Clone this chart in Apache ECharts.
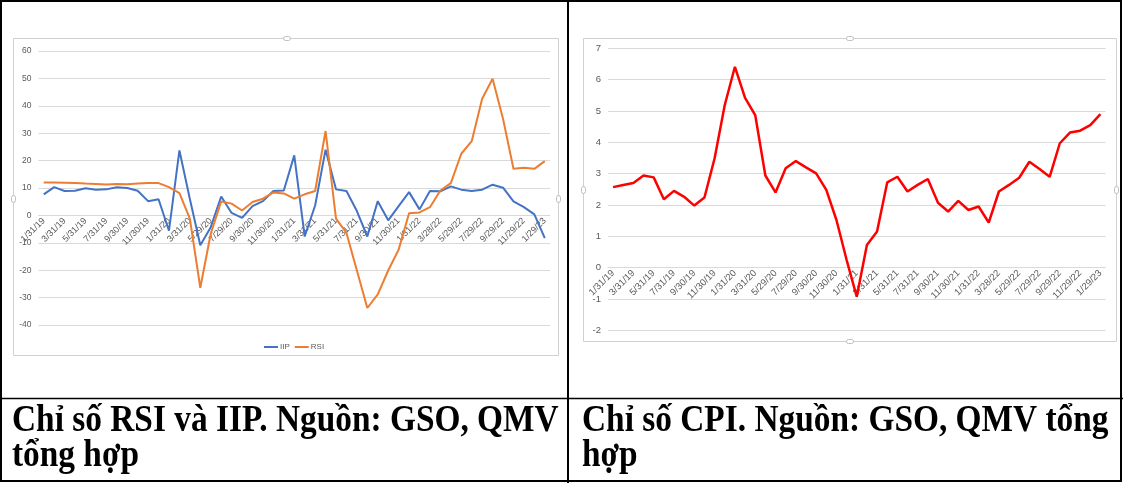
<!DOCTYPE html>
<html>
<head>
<meta charset="utf-8">
<script src="https://cdn.jsdelivr.net/npm/echarts@6/dist/echarts.min.js"></script>
<style>
  html, body { margin: 0; padding: 0; background: #ffffff; }
  #chart { width: 1123px; height: 483px; }
</style>
</head>
<body>
<div id="chart"></div>
<script>
// ---------- DATA ----------
const categories = [
  '1/31/19','2/28/19','3/31/19','4/30/19','5/31/19','6/30/19','7/31/19','8/31/19','9/30/19','10/31/19','11/30/19','12/31/19',
  '1/31/20','2/29/20','3/31/20','4/29/20','5/29/20','6/29/20','7/29/20','8/31/20','9/30/20','10/31/20','11/30/20','12/31/20',
  '1/31/21','2/28/21','3/31/21','4/30/21','5/31/21','6/30/21','7/31/21','8/31/21','9/30/21','10/31/21','11/30/21','12/31/21',
  '1/31/22','2/28/22','3/28/22','4/28/22','5/29/22','6/29/22','7/29/22','8/29/22','9/29/22','10/29/22','11/29/22','12/29/22',
  '1/29/23'
];
const iip = [
  7.7, 10.3, 8.9, 9.0, 9.9, 9.4, 9.5, 10.3, 10.0, 9.0, 5.2, 5.9,
  -5.6, 23.7, 6.0, -10.9, -4.3, 6.9, 0.9, -0.9, 3.4, 5.2, 8.9, 9.1,
  21.9, -7.7, 3.6, 24.0, 9.5, 8.9, 1.6, -7.7, 5.2, -1.8, 3.4, 8.5,
  2.2, 8.9, 8.8, 10.6, 9.4, 8.9, 9.4, 11.2, 10.1, 5.1, 3.0, 0.4,
  -8.3
];
const rsi = [
  12.0, 12.0, 11.9, 11.8, 11.6, 11.5, 11.3, 11.5, 11.4, 11.6, 11.8, 11.8,
  10.3, 8.1, -1.2, -26.4, -6.7, 5.1, 4.3, 1.8, 4.9, 6.1, 8.4, 8.0,
  6.1, 7.7, 8.9, 30.8, -1.2, -6.4, -20.1, -33.8, -28.8, -20.1, -12.5, 0.8,
  1.1, 3.0, 9.1, 11.8, 22.5, 27.1, 42.6, 49.9, 35.3, 17.0, 17.4, 17.0,
  19.8
];
const cpi = [
  2.57, 2.64, 2.70, 2.94, 2.88, 2.18, 2.45, 2.26, 1.98, 2.24, 3.49, 5.19,
  6.41, 5.42, 4.87, 2.94, 2.40, 3.17, 3.40, 3.20, 3.01, 2.48, 1.52, 0.25,
  -0.93, 0.72, 1.15, 2.72, 2.90, 2.43, 2.64, 2.83, 2.07, 1.79, 2.13, 1.84,
  1.95, 1.44, 2.43, 2.64, 2.87, 3.38, 3.15, 2.90, 3.97, 4.31, 4.37, 4.55,
  4.90
];
const captionLeft = ['Chỉ số RSI và IIP. Nguồn: GSO, QMV', 'tổng hợp'];
const captionRight = ['Chỉ số CPI. Nguồn: GSO, QMV tổng', 'hợp'];

// ---------- CHART ----------
const chart = echarts.init(document.getElementById('chart'), null, { renderer: 'canvas' });
const gridColor = '#d9d9d9';
const labelColor = '#595959';
const uiFont = 'Liberation Sans';

// axis ranges
const leftMin = -40, leftMax = 60, leftStep = 10;
const rightMin = -2, rightMax = 7, rightStep = 1;
const leftGrid = { left: 38.5, top: 51, width: 511.5, height: 274 };
const rightGrid = { left: 608, top: 48.3, width: 497.5, height: 282 };

function xAxisCfg(gridIndex, fs, zeroOffset) {
  return {
    type: 'category', gridIndex: gridIndex, data: categories, boundaryGap: true,
    offset: zeroOffset,
    axisLine: { show: true, onZero: false, lineStyle: { color: gridColor, width: 1 } },
    axisTick: { show: false },
    axisLabel: { interval: 1, rotate: 45, fontSize: fs, color: labelColor, fontFamily: uiFont, margin: 4 },
    splitLine: { show: false }
  };
}
function yAxisCfg(gridIndex, min, max, interval, fs) {
  return {
    type: 'value', gridIndex: gridIndex, min: min, max: max, interval: interval,
    axisLine: { show: false }, axisTick: { show: false },
    axisLabel: { fontSize: fs, color: labelColor, fontFamily: uiFont, margin: 7 },
    splitLine: { show: true, lineStyle: { color: gridColor, width: 1 } }
  };
}

function handle(x, y, w, h) {
  return { type: 'rect', shape: { x: x - w / 2, y: y - h / 2, width: w, height: h, r: 2 },
           style: { fill: '#ffffff', stroke: '#bfbfbf', lineWidth: 1 }, z: 1 };
}

const capFont = 'bold 38px "Liberation Serif", "Times New Roman", serif';
const capScale = 0.878;
function caption(text, x, y) {
  return { type: 'text', x: x, y: y, scaleX: capScale, scaleY: 1,
           style: { text: text, font: capFont, fill: '#000000', textAlign: 'left', textVerticalAlign: 'top' }, z: 10 };
}

const option = {
  animation: false,
  backgroundColor: '#ffffff',
  grid: [
    Object.assign({ containLabel: false }, leftGrid),
    Object.assign({ containLabel: false }, rightGrid)
  ],
  xAxis: [
    xAxisCfg(0, 9, -leftGrid.height * (0 - leftMin) / (leftMax - leftMin)),
    xAxisCfg(1, 9.5, -rightGrid.height * (0 - rightMin) / (rightMax - rightMin))
  ],
  yAxis: [ yAxisCfg(0, leftMin, leftMax, leftStep, 8.5), yAxisCfg(1, rightMin, rightMax, rightStep, 9.5) ],
  legend: {
    data: ['IIP', 'RSI'], left: 259, top: 338, itemWidth: 14, itemHeight: 2, itemGap: 5, icon: 'rect',
    textStyle: { fontSize: 8, color: labelColor, fontFamily: uiFont, padding: [0, 0, 0, -3] }
  },
  series: [
    { name: 'IIP', type: 'line', xAxisIndex: 0, yAxisIndex: 0, data: iip, symbol: 'none',
      lineStyle: { color: '#4472c4', width: 2 }, itemStyle: { color: '#4472c4' } },
    { name: 'RSI', type: 'line', xAxisIndex: 0, yAxisIndex: 0, data: rsi, symbol: 'none',
      lineStyle: { color: '#ed7d31', width: 2 }, itemStyle: { color: '#ed7d31' } },
    { name: 'CPI', type: 'line', xAxisIndex: 1, yAxisIndex: 1, data: cpi, symbol: 'none',
      lineStyle: { color: '#ff0000', width: 2.5 }, itemStyle: { color: '#ff0000' } }
  ],
  graphic: [
    // chart area frames
    { type: 'rect', shape: { x: 13.5, y: 38.5, width: 545, height: 317 }, style: { fill: 'none', stroke: '#d0d0d0', lineWidth: 1 }, z: 0 },
    { type: 'rect', shape: { x: 583.5, y: 38.5, width: 533, height: 303 }, style: { fill: 'none', stroke: '#d0d0d0', lineWidth: 1 }, z: 0 },
    handle(287, 38.5, 7, 4), handle(13.5, 199, 4, 7), handle(558.5, 199, 4, 7),
    handle(850, 38.5, 7, 4), handle(850, 341.5, 7, 4), handle(583.5, 190, 4, 7), handle(1116.5, 190, 4, 7),
    // table borders
    { type: 'rect', shape: { x: 1, y: 1, width: 1120, height: 480 }, style: { fill: 'none', stroke: '#000000', lineWidth: 2 }, z: 10 },
    { type: 'line', shape: { x1: 568, y1: 0, x2: 568, y2: 483 }, style: { stroke: '#000000', lineWidth: 2 }, z: 10 },
    { type: 'line', shape: { x1: 0, y1: 398.5, x2: 1123, y2: 398.5 }, style: { stroke: '#000000', lineWidth: 1.5 }, z: 10 },
    // captions
    caption(captionLeft[0], 12, 402),
    caption(captionLeft[1], 12, 437),
    caption(captionRight[0], 582, 402),
    caption(captionRight[1], 582, 437)
  ]
};
chart.setOption(option);
</script>
</body>
</html>
